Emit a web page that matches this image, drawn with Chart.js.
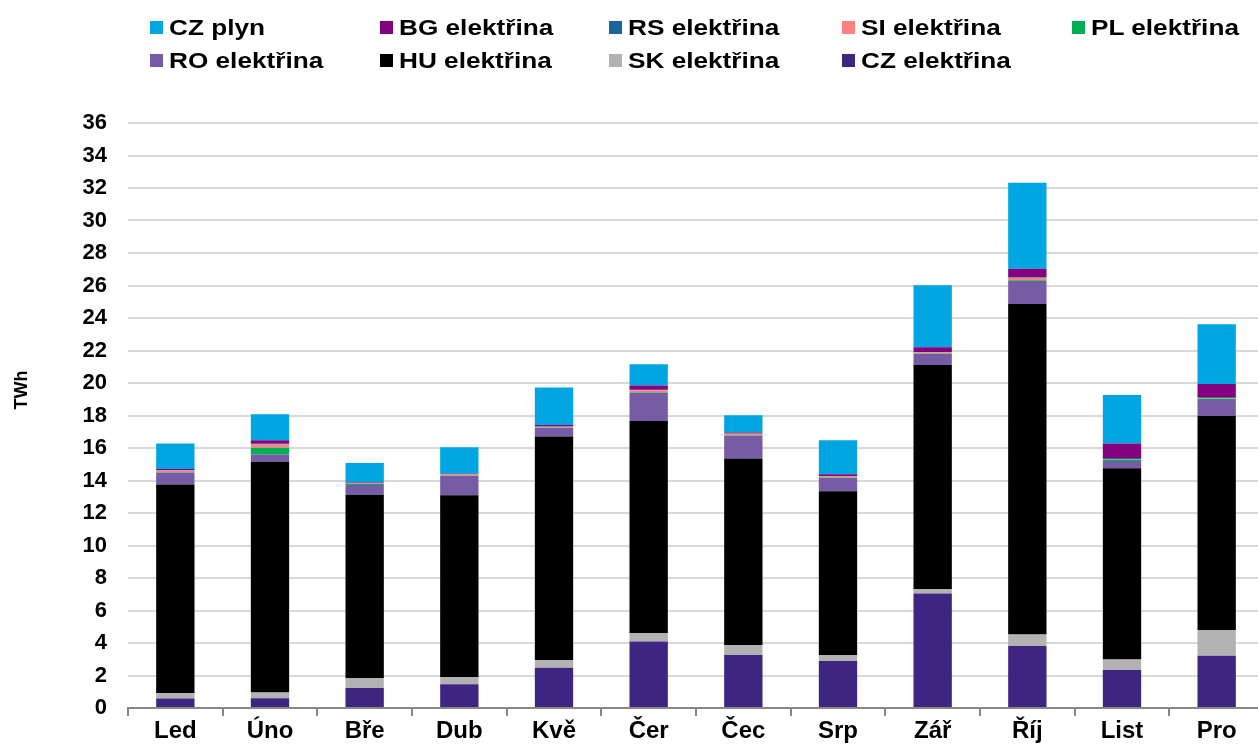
<!DOCTYPE html>
<html>
<head>
<meta charset="utf-8" />
<title>Měsíční objemy</title>
<script src="https://cdn.jsdelivr.net/npm/chart.js@4.4.1/dist/chart.umd.min.js"></script>
<style>
    html, body { margin: 0; padding: 0; overflow: hidden; background: #fff; }
    #wrap { position: relative; width: 1270px; height: 744px; }
    #legend { position: absolute; left: 0; top: 0; width: 1258px; height: 80px; }
    .item { position: absolute; white-space: nowrap; }
    .item i { position: absolute; left: 0; width: 13px; height: 13px; }
    .item span { position: absolute; left: 19px; font: bold 22px "Liberation Sans", Arial, sans-serif; line-height: 22px;
        color: #000; transform: scaleX(1.19); transform-origin: left top; }
</style>
</head>
<body>
<div id="wrap">
    <canvas id="chart"></canvas>
    <div id="legend"></div>
</div>
<script>
    const months = ['Led', 'Úno', 'Bře', 'Dub', 'Kvě', 'Čer', 'Čec', 'Srp', 'Zář', 'Říj', 'List', 'Pro'];

    const czEl  = [0.58, 0.60, 1.23, 1.46, 2.48, 4.09, 3.26, 2.89, 7.05, 3.81, 2.34, 3.22];
    const skEl  = [0.33, 0.35, 0.62, 0.45, 0.46, 0.53, 0.61, 0.37, 0.27, 0.72, 0.64, 1.58];
    const huEl  = [12.85, 14.20, 11.26, 11.19, 13.77, 13.04, 11.48, 10.08, 13.79, 20.33, 11.78, 13.17];
    const roEl  = [0.72, 0.45, 0.62, 1.17, 0.52, 1.74, 1.39, 0.82, 0.67, 1.41, 0.44, 0.98];
    const plEl  = [0.03, 0.41, 0.05, 0.02, 0.02, 0.03, 0.03, 0.02, 0.03, 0.05, 0.10, 0.08];
    const siEl  = [0.10, 0.20, 0.03, 0.08, 0.06, 0.13, 0.10, 0.08, 0.08, 0.16, 0.03, 0.03];
    const rsEl  = [0.02, 0.05, 0.02, 0.02, 0.02, 0.02, 0.02, 0.02, 0.02, 0.05, 0.05, 0.03];
    const bgEl  = [0.08, 0.22, 0.05, 0.02, 0.08, 0.26, 0.06, 0.10, 0.29, 0.50, 0.90, 0.85];
    const czGas = [1.56, 1.59, 1.20, 1.63, 2.32, 1.32, 1.07, 2.09, 3.81, 5.30, 2.98, 3.67];

    const yTicks = { min: 0, max: 36, step: 2 };

    // stacking order bottom -> top
    const series = [
        { label: 'CZ elektřina', data: czEl,  color: '#3d2581' },
        { label: 'SK elektřina', data: skEl,  color: '#b2b2b2' },
        { label: 'HU elektřina', data: huEl,  color: '#000000' },
        { label: 'RO elektřina', data: roEl,  color: '#765ba5' },
        { label: 'PL elektřina', data: plEl,  color: '#00b050' },
        { label: 'SI elektřina', data: siEl,  color: '#ff8080' },
        { label: 'RS elektřina', data: rsEl,  color: '#18669b' },
        { label: 'BG elektřina', data: bgEl,  color: '#83007e' },
        { label: 'CZ plyn',      data: czGas, color: '#00a6e2' }
    ];

    // legend layout as in the original (2 rows x 5 columns)
    const legendOrder = ['CZ plyn', 'BG elektřina', 'RS elektřina', 'SI elektřina', 'PL elektřina',
                         'RO elektřina', 'HU elektřina', 'SK elektřina', 'CZ elektřina'];
    const colX = [150, 380, 609, 842, 1072];
    const rowY = [21, 53.5];
    const legend = document.getElementById('legend');
    legendOrder.forEach((name, i) => {
        const s = series.find(d => d.label === name);
        const el = document.createElement('div');
        el.className = 'item';
        el.style.left = colX[i % 5] + 'px';
        el.style.top = rowY[Math.floor(i / 5)] + 'px';
        el.innerHTML = '<i style="background:' + s.color + '"></i><span style="top:-4px">' + name + '</span>';
        legend.appendChild(el);
    });

    const axisTitle = {
        id: 'axisTitle',
        afterDraw(chart) {
            const ctx = chart.ctx;
            ctx.save();
            ctx.translate(22, 390);
            ctx.rotate(-Math.PI / 2);
            ctx.font = 'bold 18px "Liberation Sans", Arial, sans-serif';
            ctx.fillStyle = '#000';
            ctx.textAlign = 'center';
            ctx.textBaseline = 'middle';
            ctx.fillText('TWh', 0, 0);
            ctx.restore();
        }
    };

    Chart.defaults.font.family = '"Liberation Sans", Arial, sans-serif';
    Chart.defaults.color = '#000';

    new Chart(document.getElementById('chart'), {
        type: 'bar',
        data: {
            labels: months,
            datasets: series.map(s => ({
                label: s.label,
                data: s.data,
                backgroundColor: s.color,
                borderWidth: 0,
                barPercentage: 0.405,
                categoryPercentage: 1
            }))
        },
        options: {
            responsive: true,
            maintainAspectRatio: false,
            animation: false,
            layout: { padding: { top: 123, right: 6, left: 0, bottom: 0 } },
            plugins: {
                legend: { display: false },
                tooltip: { enabled: false }
            },
            scales: {
                x: {
                    stacked: true,
                    offset: true,
                    grid: { drawOnChartArea: false, drawTicks: true, tickLength: 8, color: '#888', lineWidth: 2 },
                    border: { display: true, color: '#888', width: 2 },
                    ticks: { font: { size: 24, weight: 'bold' }, padding: 1, maxRotation: 0, autoSkip: false },
                    afterFit: s => { s.height = 36; }
                },
                y: {
                    stacked: true,
                    min: yTicks.min,
                    max: yTicks.max,
                    grid: { color: '#d9d9d9', lineWidth: 2, drawTicks: false },
                    border: { display: false },
                    ticks: { stepSize: yTicks.step, font: { size: 22, weight: 'bold' }, padding: 21 },
                    afterFit: s => { s.width = 128; }
                }
            }
        },
        plugins: [axisTitle]
    });
</script>
</body>
</html>
